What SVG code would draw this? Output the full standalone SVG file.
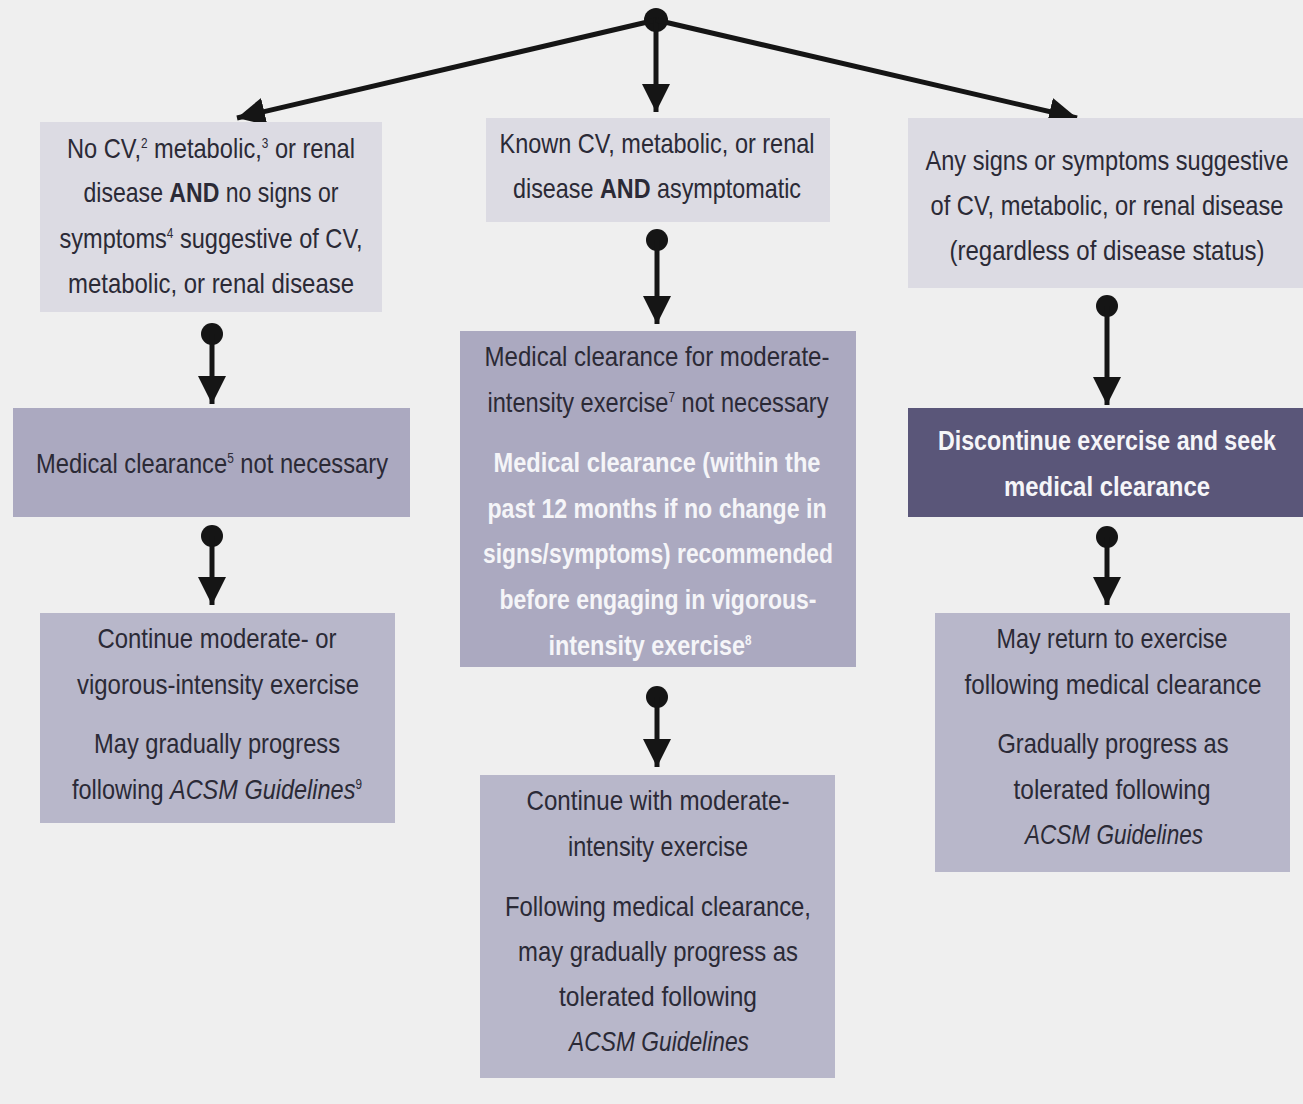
<svg xmlns="http://www.w3.org/2000/svg" width="1303" height="1104" viewBox="0 0 1303 1104">
<defs>
<style>
.bg{fill:#efefef}
.light{fill:#dcdbe3}
.mid{fill:#aba9c0}
.low{fill:#b8b7ca}
.dark{fill:#5a5679}
text{font-family:"Liberation Sans Narrow","Liberation Sans","DejaVu Sans Condensed",sans-serif;font-size:28px;fill:#2b2a36;text-anchor:middle}
text.w{fill:#f5f5f8;font-weight:bold}
.b{font-weight:bold}
.i{font-style:italic}
.sup{font-size:14px}
.con{stroke:#151515;stroke-width:5;fill:none}
.dot{fill:#151515}
</style>
<marker id="ah" markerUnits="userSpaceOnUse" markerWidth="30" markerHeight="30" refX="28" refY="14" orient="auto" viewBox="0 0 30 30">
<path d="M0,0 L28,14 L0,28 z" fill="#151515"/>
</marker>
</defs>
<rect class="bg" x="0" y="0" width="1303" height="1104"/>

<g id="connectors">
<circle class="dot" cx="656" cy="20" r="12"/>
<line class="con" x1="656" y1="20" x2="237" y2="118" marker-end="url(#ah)"/>
<line class="con" x1="656" y1="20" x2="656" y2="112" marker-end="url(#ah)"/>
<line class="con" x1="656" y1="20" x2="1077" y2="118" marker-end="url(#ah)"/>
<circle class="dot" cx="212" cy="334" r="11"/>
<line class="con" x1="212" y1="334" x2="212" y2="404" marker-end="url(#ah)"/>
<circle class="dot" cx="212" cy="536" r="11"/>
<line class="con" x1="212" y1="536" x2="212" y2="605" marker-end="url(#ah)"/>
<circle class="dot" cx="657" cy="240" r="11"/>
<line class="con" x1="657" y1="240" x2="657" y2="324" marker-end="url(#ah)"/>
<circle class="dot" cx="657" cy="697" r="11"/>
<line class="con" x1="657" y1="697" x2="657" y2="767" marker-end="url(#ah)"/>
<circle class="dot" cx="1107" cy="306" r="11"/>
<line class="con" x1="1107" y1="306" x2="1107" y2="405" marker-end="url(#ah)"/>
<circle class="dot" cx="1107" cy="537" r="11"/>
<line class="con" x1="1107" y1="537" x2="1107" y2="605" marker-end="url(#ah)"/>
</g>

<g id="node-no-disease">
<rect class="light" x="40" y="122" width="342" height="190"/>
<text x="211" y="158" textLength="288" lengthAdjust="spacingAndGlyphs">No CV,<tspan class="sup" dy="-10">2</tspan><tspan dy="10"> metabolic,</tspan><tspan class="sup" dy="-10">3</tspan><tspan dy="10"> or renal</tspan></text>
<text x="211" y="202" textLength="255" lengthAdjust="spacingAndGlyphs">disease <tspan class="b">AND</tspan> no signs or</text>
<text x="211" y="248" textLength="303" lengthAdjust="spacingAndGlyphs">symptoms<tspan class="sup" dy="-10">4</tspan><tspan dy="10"> suggestive of CV,</tspan></text>
<text x="211" y="293" textLength="286" lengthAdjust="spacingAndGlyphs">metabolic, or renal disease</text>
</g>

<g id="node-known-disease">
<rect class="light" x="486" y="118" width="344" height="104"/>
<text x="657" y="153" textLength="315" lengthAdjust="spacingAndGlyphs">Known CV, metabolic, or renal</text>
<text x="657" y="198" textLength="288" lengthAdjust="spacingAndGlyphs">disease <tspan class="b">AND</tspan> asymptomatic</text>
</g>

<g id="node-symptoms">
<rect class="light" x="908" y="118" width="395" height="170"/>
<text x="1107" y="170" textLength="363" lengthAdjust="spacingAndGlyphs">Any signs or symptoms suggestive</text>
<text x="1107" y="215" textLength="353" lengthAdjust="spacingAndGlyphs">of CV, metabolic, or renal disease</text>
<text x="1107" y="260" textLength="315" lengthAdjust="spacingAndGlyphs">(regardless of disease status)</text>
</g>

<g id="node-clearance-not-necessary">
<rect class="mid" x="13" y="408" width="397" height="109"/>
<text x="212" y="473" textLength="352" lengthAdjust="spacingAndGlyphs">Medical clearance<tspan class="sup" dy="-10">5</tspan><tspan dy="10"> not necessary</tspan></text>
</g>

<g id="node-clearance-moderate">
<rect class="mid" x="460" y="331" width="396" height="336"/>
<text x="657" y="366" textLength="345" lengthAdjust="spacingAndGlyphs">Medical clearance for moderate-</text>
<text x="658" y="412" textLength="341" lengthAdjust="spacingAndGlyphs">intensity exercise<tspan class="sup" dy="-10">7</tspan><tspan dy="10"> not necessary</tspan></text>
<text class="w" x="657" y="472" textLength="327" lengthAdjust="spacingAndGlyphs">Medical clearance (within the</text>
<text class="w" x="657" y="518" textLength="339" lengthAdjust="spacingAndGlyphs">past 12 months if no change in</text>
<text class="w" x="658" y="563" textLength="350" lengthAdjust="spacingAndGlyphs">signs/symptoms) recommended</text>
<text class="w" x="658" y="609" textLength="317" lengthAdjust="spacingAndGlyphs">before engaging in vigorous-</text>
<text class="w" x="650" y="655" textLength="203" lengthAdjust="spacingAndGlyphs">intensity exercise<tspan class="sup" dy="-10">8</tspan><tspan dy="10"></tspan></text>
</g>

<g id="node-discontinue">
<rect class="dark" x="908" y="408" width="395" height="109"/>
<text class="w" x="1107" y="450" textLength="338" lengthAdjust="spacingAndGlyphs">Discontinue exercise and seek</text>
<text class="w" x="1107" y="496" textLength="206" lengthAdjust="spacingAndGlyphs">medical clearance</text>
</g>

<g id="node-continue-left">
<rect class="low" x="40" y="613" width="355" height="210"/>
<text x="217" y="648" textLength="239" lengthAdjust="spacingAndGlyphs">Continue moderate- or</text>
<text x="218" y="694" textLength="282" lengthAdjust="spacingAndGlyphs">vigorous-intensity exercise</text>
<text x="217" y="753" textLength="246" lengthAdjust="spacingAndGlyphs">May gradually progress</text>
<text x="217" y="799" textLength="290" lengthAdjust="spacingAndGlyphs">following <tspan class="i">ACSM Guidelines</tspan><tspan class="sup" dy="-10">9</tspan><tspan dy="10"></tspan></text>
</g>

<g id="node-continue-middle">
<rect class="low" x="480" y="775" width="355" height="303"/>
<text x="658" y="810" textLength="263" lengthAdjust="spacingAndGlyphs">Continue with moderate-</text>
<text x="658" y="856" textLength="180" lengthAdjust="spacingAndGlyphs">intensity exercise</text>
<text x="658" y="916" textLength="306" lengthAdjust="spacingAndGlyphs">Following medical clearance,</text>
<text x="658" y="961" textLength="280" lengthAdjust="spacingAndGlyphs">may gradually progress as</text>
<text x="658" y="1006" textLength="198" lengthAdjust="spacingAndGlyphs">tolerated following</text>
<text class="i" x="659" y="1051" textLength="180" lengthAdjust="spacingAndGlyphs">ACSM Guidelines</text>
</g>

<g id="node-return">
<rect class="low" x="935" y="613" width="355" height="259"/>
<text x="1112" y="648" textLength="231" lengthAdjust="spacingAndGlyphs">May return to exercise</text>
<text x="1113" y="694" textLength="297" lengthAdjust="spacingAndGlyphs">following medical clearance</text>
<text x="1113" y="753" textLength="231" lengthAdjust="spacingAndGlyphs">Gradually progress as</text>
<text x="1112" y="799" textLength="197" lengthAdjust="spacingAndGlyphs">tolerated following</text>
<text class="i" x="1114" y="844" textLength="178" lengthAdjust="spacingAndGlyphs">ACSM Guidelines</text>
</g>
</svg>
